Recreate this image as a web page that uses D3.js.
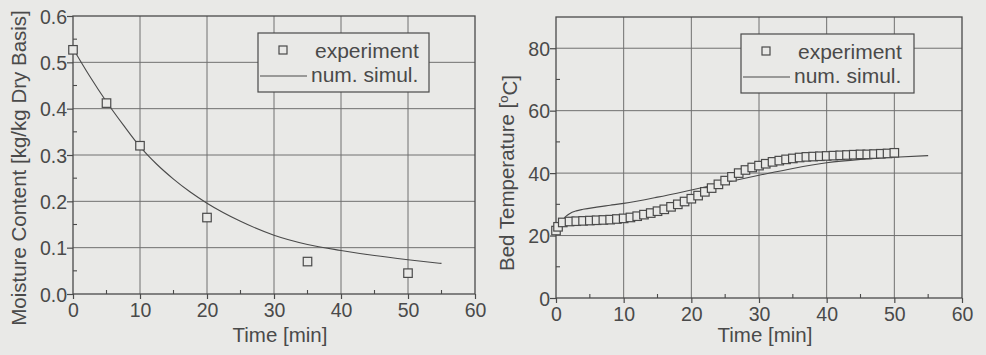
<!DOCTYPE html>
<html>
<head>
<meta charset="utf-8">
<script src="https://cdn.jsdelivr.net/npm/d3@7"></script>
<style>
  html, body { margin: 0; padding: 0; background: #e9e9e7; }
  svg { display: block; }
  text { font-family: "Liberation Sans", Arial, sans-serif; fill: #4a4a4a; }
</style>
</head>
<body>
<svg id="chart" width="986" height="355"></svg>
<script>
// moisture panel
const moistExpTime = [0, 5, 10, 20, 35, 50];
const moistExpValue = [0.527, 0.412, 0.32, 0.165, 0.07, 0.045];
const moistSimTime = [0, 2.5, 5, 7.5, 10, 12.5, 15, 17.5, 20, 25, 30, 35, 40, 45, 50, 55];
const moistSimValue = [0.53, 0.47, 0.415, 0.365, 0.318, 0.28, 0.248, 0.22, 0.196, 0.157, 0.127, 0.107, 0.094, 0.083, 0.074, 0.066];
const moistTicks = [0.0, 0.1, 0.2, 0.3, 0.4, 0.5, 0.6];

// bed temperature panel
const tempExpTime = [0, 0.3, 1, 2, 3, 4, 5, 6, 7, 8, 9, 10, 11, 12, 13, 14, 15, 16, 17, 18, 19, 20,
  21, 22, 23, 24, 25, 26, 27, 28, 29, 30, 31, 32, 33, 34, 35, 36, 37, 38, 39, 40,
  41, 42, 43, 44, 45, 46, 47, 48, 49, 50];
const tempExpValue = [21.6, 22.8, 24.2, 24.5, 24.6, 24.7, 24.8, 24.9, 25.0, 25.1, 25.3, 25.5, 25.8, 26.2, 26.7, 27.2, 27.8, 28.4, 29.2, 30.0, 30.9, 31.8,
  32.8, 34.0, 35.2, 36.4, 37.6, 38.8, 40.0, 41.0, 41.8, 42.4, 43.0, 43.6, 44.0, 44.4, 44.7, 45.0, 45.2, 45.3, 45.4, 45.5,
  45.6, 45.7, 45.8, 45.9, 46.0, 46.0, 46.1, 46.2, 46.3, 46.5];
const tempSimTime = [0, 0.5, 1, 1.5, 2, 3, 4, 6, 8, 10, 15, 20, 25, 30, 35, 40, 45, 50, 55];
const tempSimValue = [21.8, 23.5, 25.0, 26.2, 27.0, 27.9, 28.4, 29.1, 29.7, 30.3, 32.3, 34.6, 37.0, 39.3, 41.5, 43.3, 44.4, 45.1, 45.6];
const tempTicks = [0, 20, 40, 60, 80];

const timeTicks = [0, 10, 20, 30, 40, 50, 60];
const legendLabels = ['experiment', 'num. simul.'];

const ink = '#4a4a4a';
const paper = '#e9e9e7';
const svg = d3.select('#chart');

function drawPanel(p) {
  const x = d3.scaleLinear().domain([0, 60]).range([p.left, p.right]);
  const y = d3.scaleLinear().domain(p.yDomain).range([p.bottom, p.top]);
  const g = svg.append('g');

  // grid
  g.selectAll('.vgrid').data(timeTicks.slice(1, -1)).enter().append('line')
    .attr('x1', d => x(d)).attr('x2', d => x(d))
    .attr('y1', p.top).attr('y2', p.bottom)
    .attr('stroke', '#707070').attr('stroke-width', 1);
  g.selectAll('.hgrid').data(p.yTicks.filter(d => d > p.yDomain[0] && d < p.yDomain[1])).enter().append('line')
    .attr('x1', p.left).attr('x2', p.right)
    .attr('y1', d => y(d)).attr('y2', d => y(d))
    .attr('stroke', '#707070').attr('stroke-width', 1);

  // frame
  g.append('rect')
    .attr('x', p.left).attr('y', p.top)
    .attr('width', p.right - p.left).attr('height', p.bottom - p.top)
    .attr('fill', 'none').attr('stroke', ink).attr('stroke-width', 1.3);

  // axes
  const xAxis = d3.axisBottom(x).tickValues(timeTicks).tickSize(5);
  const xa = g.append('g').attr('transform', `translate(0,${p.bottom})`).call(xAxis);
  const yAxis = d3.axisLeft(y).tickValues(p.yTicks).tickFormat(p.fmt).tickSize(6).tickPadding(0);
  const ya = g.append('g').attr('transform', `translate(${p.left},0)`).call(yAxis);
  [xa, ya].forEach(a => {
    a.select('.domain').remove();
    a.selectAll('line').attr('stroke', ink).attr('stroke-width', 1.2);
    a.selectAll('text').attr('fill', ink).style('font-size', '19.5px')
      .style('font-family', '"Liberation Sans", Arial, sans-serif');
  });
  xa.selectAll('text').attr('y', 22.5).attr('dy', null);
  ya.selectAll('text').attr('dy', '0.36em');

  // minor ticks (inside)
  g.selectAll('.xminor').data(d3.range(5, 60, 10)).enter().append('line')
    .attr('x1', d => x(d)).attr('x2', d => x(d))
    .attr('y1', p.bottom).attr('y2', p.bottom - 4)
    .attr('stroke', ink).attr('stroke-width', 1.1);
  g.selectAll('.yminor').data(p.yMinor).enter().append('line')
    .attr('x1', p.left).attr('x2', p.left + 4)
    .attr('y1', d => y(d)).attr('y2', d => y(d))
    .attr('stroke', ink).attr('stroke-width', 1.1);

  // simulation curve
  const line = d3.line().x(d => x(d[0])).y(d => y(d[1])).curve(d3.curveMonotoneX);
  g.append('path')
    .datum(d3.zip(p.simT, p.simV))
    .attr('d', line)
    .attr('fill', 'none').attr('stroke', ink).attr('stroke-width', 1.1);

  // experiment markers
  const s = 8.5;
  g.selectAll('.pt').data(d3.zip(p.expT, p.expV)).enter().append('rect')
    .attr('x', d => x(d[0]) - s / 2).attr('y', d => y(d[1]) - s / 2)
    .attr('width', s).attr('height', s)
    .attr('fill', paper).attr('stroke', ink).attr('stroke-width', 1.2);

  // legend
  const lx = p.left + 185, ly = p.top + 17;
  const lg = g.append('g').attr('transform', `translate(${lx},${ly})`);
  lg.append('rect').attr('width', p.legendW).attr('height', 59)
    .attr('fill', paper).attr('stroke', ink).attr('stroke-width', 1.2);
  lg.append('rect').attr('x', 21).attr('y', 13).attr('width', 8).attr('height', 8)
    .attr('fill', paper).attr('stroke', ink).attr('stroke-width', 1.2);
  lg.append('line').attr('x1', 2).attr('x2', 49).attr('y1', 43).attr('y2', 43)
    .attr('stroke', ink).attr('stroke-width', 1.1);
  lg.selectAll('.lt').data(legendLabels).enter().append('text')
    .attr('x', (d, i) => i === 0 ? 57 : 53)
    .attr('y', (d, i) => 25 + i * 24)
    .style('font-size', '21px')
    .text(d => d);

  // axis titles
  g.append('text')
    .attr('x', (p.left + p.right) / 2 + 6).attr('y', 342)
    .attr('text-anchor', 'middle').style('font-size', '20.5px')
    .text('Time [min]');
  const yt = g.append('text')
    .attr('transform', `translate(${p.yTitleX},${p.yTitleY}) rotate(-90)`)
    .attr('text-anchor', 'middle').style('font-size', '20.5px');
  p.yTitle(yt);
}

drawPanel({
  left: 73, right: 475, top: 16, bottom: 294,
  yDomain: [0, 0.6], yTicks: moistTicks, fmt: d3.format('.1f'),
  yMinor: d3.range(0.05, 0.6, 0.1),
  expT: moistExpTime, expV: moistExpValue, simT: moistSimTime, simV: moistSimValue,
  legendW: 171, yTitleX: 26, yTitleY: 168,
  yTitle: t => t.text('Moisture Content [kg/kg Dry Basis]')
});

drawPanel({
  left: 556, right: 962, top: 17, bottom: 298,
  yDomain: [0, 90], yTicks: tempTicks, fmt: d3.format('d'),
  yMinor: [10, 30, 50, 70],
  expT: tempExpTime, expV: tempExpValue, simT: tempSimTime, simV: tempSimValue,
  legendW: 173, yTitleX: 514, yTitleY: 173,
  yTitle: t => {
    t.append('tspan').text('Bed Temperature [');
    t.append('tspan').attr('dy', '-0.45em').style('font-size', '13px').text('o');
    t.append('tspan').attr('dy', '0.45em').text('C]');
  }
});
</script>
</body>
</html>
